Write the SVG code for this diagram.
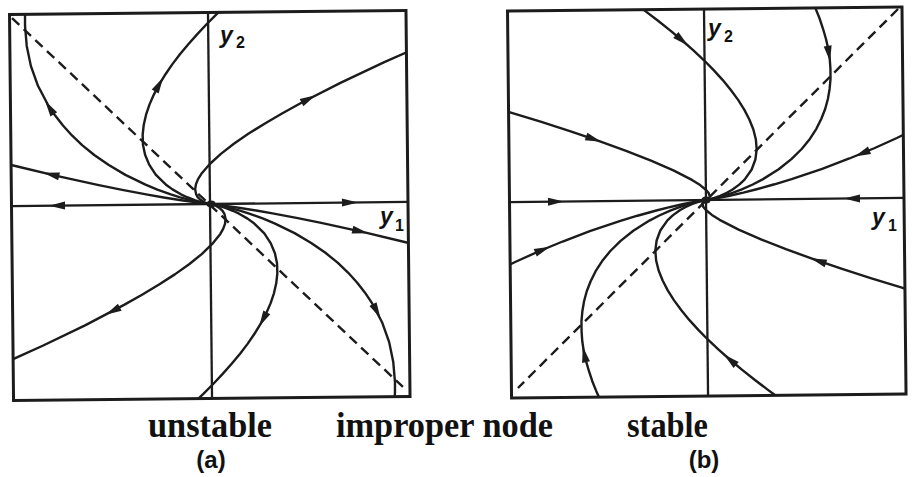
<svg xmlns="http://www.w3.org/2000/svg" xmlns:xlink="http://www.w3.org/1999/xlink" width="914" height="477" viewBox="0 0 914 477">
<style>
.box{fill:none;stroke:#1c1c1c;stroke-width:3}
.axis{stroke:#1c1c1c;stroke-width:2.3}
.traj{fill:none;stroke:#1c1c1c;stroke-width:2.4;stroke-linejoin:round}
.dash{stroke:#1c1c1c;stroke-width:2.4;stroke-dasharray:10 6}
.cap{font-family:"Liberation Serif",serif;font-weight:bold;font-size:35px;fill:#111}
.tag{font-family:"Liberation Sans",Arial,sans-serif;font-weight:bold;font-size:24px;fill:#111}
.ax{font-family:"Liberation Sans",Arial,sans-serif;font-weight:bold;fill:#111}
.ahd{fill:#1c1c1c}
.dot{fill:#1c1c1c}
</style>
<defs>
<path id="ah" class="ahd" d="M8,0 L-8,-4 L-8,4 Z"/>
<clipPath id="clipA"><rect x="11.5" y="12.5" width="396.5" height="386"/></clipPath>
<clipPath id="clipB"><rect x="509.5" y="9" width="394.5" height="387"/></clipPath>
<path id="a0" class="traj" d="M210,204 L205.4,203.5 201.5,203 194.3,202 181.4,200 163.8,197 147.6,194 122.4,189 99,184 55.7,174 15.8,164 -3.3,159"/>
<path id="a1" class="traj" d="M210,204 L206.5,203.5 203.8,203 199,202 190.7,200 180.2,197 170.9,194 157.5,189 145.7,184 125.7,174 109.2,164 95.1,154 83,144 72.7,134 63.8,124 56.1,114 49.5,104 39.2,84 32.3,64 28.4,44 26.9,24 27,14 27.6,4"/>
<path id="aS" class="traj" d="M210,204 L207,203.5 204.8,203 201,202 194.7,200 187.2,197 181,194 172.6,189 165.9,184 156,174 149.6,164 145.6,154 143.6,144 143.4,134 144.6,124 147,114 150.5,104 155,94 160.4,84 166.7,74 173.7,64 181.5,54 190,44 199.1,34 208.7,24 218.9,14 229.6,4"/>
<path id="bA" class="traj" d="M706,200 L708.8,199.5 710.9,199 714.5,198 720.2,196 726.9,193 732.3,190 739.4,185 744.8,180 752,170 755.8,160 757.2,150 756.5,140 754.1,130 750.2,120 745.2,110 739,100 731.8,90 723.8,80 714.8,70 705.2,60 694.7,50 683.6,40 671.9,30 659.6,20 646.7,10 633.4,0"/>
<path id="bB" class="traj" d="M706,200 L709.3,199.5 711.8,199 716.3,198 723.8,196 733.2,193 741.3,190 752.9,185 762.8,180 779,170 791.8,160 802.2,150 810.5,140 817.1,130 822.2,120 826.2,110 829,100 830.8,90 831.8,80 831.8,70 831.2,60 829.8,50 827.6,40 824.8,30 821.6,20 817.7,10 813.4,0"/>
<path id="bC" class="traj" d="M706,200 L710,199.5 713.3,199 719.2,198 729.6,196 743.4,193 755.8,190 774.7,185 791.8,180 822.5,170 849.8,160 874.7,150 897.5,140 918.6,130"/>
<path id="bD" class="traj" d="M706,200 L707.5,199.5 708.3,199 709.3,198 709.8,196 708.7,193 706.2,190 700.3,185 692.6,180 673.7,170 651.4,160 626.6,150 599.9,140 571.4,130 541.4,120 510.2,110 478,100"/>
</defs>

<g id="panel-a" transform="rotate(-0.6 210 204)">
  <rect class="box" x="11.5" y="12.5" width="396.5" height="386"/>
  <g id="connectors-a" clip-path="url(#clipA)">
    <line class="axis" x1="210" y1="12.5" x2="210" y2="398.5"/>
    <line class="axis" x1="11.5" y1="204" x2="408" y2="204"/>
    <line class="dash" x1="14" y1="16" x2="401" y2="389"/>
    <use xlink:href="#a0"/>
    <use xlink:href="#a0" transform="rotate(180 210 204)"/>
    <use xlink:href="#a1"/>
    <use xlink:href="#a1" transform="rotate(180 210 204)"/>
    <use xlink:href="#aS"/>
    <use xlink:href="#aS" transform="rotate(180 210 204)"/>
    <path class="traj" d="M210,204 L207.8,203.5 206.3,203 204,202 200.8,200 197.8,197 196.2,194 195.3,189 196.2,184 198.3,179 201.5,174 210.2,164 221.4,154 234.5,144 249.4,134 265.8,124 283.4,114 302,104 342.2,84 385.8,64 432.4,44"/>
    <path class="traj" d="M210,204 L212.2,204.5 213.7,205 216.1,206 219.4,208 222.5,211 224.3,214 225.4,219 224.8,224 222.9,229 220,234 211.8,244 201.2,254 188.5,264 174.1,274 158.2,284 141.1,294 123,304 83.8,324 41.2,344 -4.4,364"/>
    <ellipse class="dot" cx="211" cy="204" rx="4.5" ry="3.5"/>
  </g>
  <g id="arrows-a">
    <use xlink:href="#ah" transform="translate(57,204) rotate(180)"/>
    <use xlink:href="#ah" transform="translate(350,204)"/>
    <use xlink:href="#ah" transform="translate(51.6,173) rotate(-166.3)"/>
    <use xlink:href="#ah" transform="translate(360,233) rotate(13.5)"/>
    <use xlink:href="#ah" transform="translate(50.5,106) rotate(-122)"/>
    <use xlink:href="#ah" transform="translate(375.6,313) rotate(62.6)"/>
    <use xlink:href="#ah" transform="translate(160.4,84) rotate(-59.6)"/>
    <use xlink:href="#ah" transform="translate(261.8,320) rotate(119)"/>
    <use xlink:href="#ah" transform="translate(309.7,100) rotate(-27)"/>
    <use xlink:href="#ah" transform="translate(111.6,310) rotate(152.6)"/>
  </g>
</g>

<g id="panel-b" transform="rotate(-0.6 706 200)">
  <rect class="box" x="509.5" y="9" width="394.5" height="387"/>
  <g id="connectors-b" clip-path="url(#clipB)">
    <line class="axis" x1="706" y1="9" x2="706" y2="396"/>
    <line class="axis" x1="509.5" y1="200" x2="904" y2="200"/>
    <line class="dash" x1="900" y1="11" x2="516" y2="386"/>
    <use xlink:href="#bA"/>
    <use xlink:href="#bA" transform="rotate(180 706 200)"/>
    <use xlink:href="#bB"/>
    <use xlink:href="#bB" transform="rotate(180 706 200)"/>
    <use xlink:href="#bC"/>
    <use xlink:href="#bC" transform="rotate(180 706 200)"/>
    <use xlink:href="#bD"/>
    <use xlink:href="#bD" transform="rotate(180 706 200)"/>
    <ellipse class="dot" cx="706" cy="200" rx="4.5" ry="3.5"/>
  </g>
  <g id="arrows-b">
    <use xlink:href="#ah" transform="translate(556,200)"/>
    <use xlink:href="#ah" transform="translate(852,200) rotate(180)"/>
    <use xlink:href="#ah" transform="translate(683.6,40) rotate(41)"/>
    <use xlink:href="#ah" transform="translate(728.4,360) rotate(221)"/>
    <use xlink:href="#ah" transform="translate(830.4,55) rotate(82)"/>
    <use xlink:href="#ah" transform="translate(582.8,353) rotate(259)"/>
    <use xlink:href="#ah" transform="translate(862.6,155) rotate(158)"/>
    <use xlink:href="#ah" transform="translate(542.1,248) rotate(-22)"/>
    <use xlink:href="#ah" transform="translate(594.3,138) rotate(19.65)"/>
    <use xlink:href="#ah" transform="translate(817.7,262) rotate(199.65)"/>
  </g>
</g>

<g id="axis-labels">
  <text class="ax" font-size="23"><tspan x="220" y="43" font-style="italic">y</tspan><tspan x="236" y="48" font-size="16">2</tspan></text>
  <text class="ax" font-size="23"><tspan x="380" y="224" font-style="italic">y</tspan><tspan x="395" y="231" font-size="16">1</tspan></text>
  <text class="ax" font-size="23"><tspan x="708" y="36" font-style="italic">y</tspan><tspan x="724" y="42" font-size="16">2</tspan></text>
  <text class="ax" font-size="23"><tspan x="872" y="225" font-style="italic">y</tspan><tspan x="888" y="231" font-size="16">1</tspan></text>
</g>

<g id="captions">
  <text class="cap" x="148" y="437" textLength="124" lengthAdjust="spacingAndGlyphs">unstable</text>
  <text class="cap" x="336" y="437" textLength="217" lengthAdjust="spacingAndGlyphs">improper node</text>
  <text class="cap" x="627" y="437" textLength="81" lengthAdjust="spacingAndGlyphs">stable</text>
  <text class="tag" x="211" y="468" text-anchor="middle">(a)</text>
  <text class="tag" x="704" y="468" text-anchor="middle">(b)</text>
</g>
</svg>
